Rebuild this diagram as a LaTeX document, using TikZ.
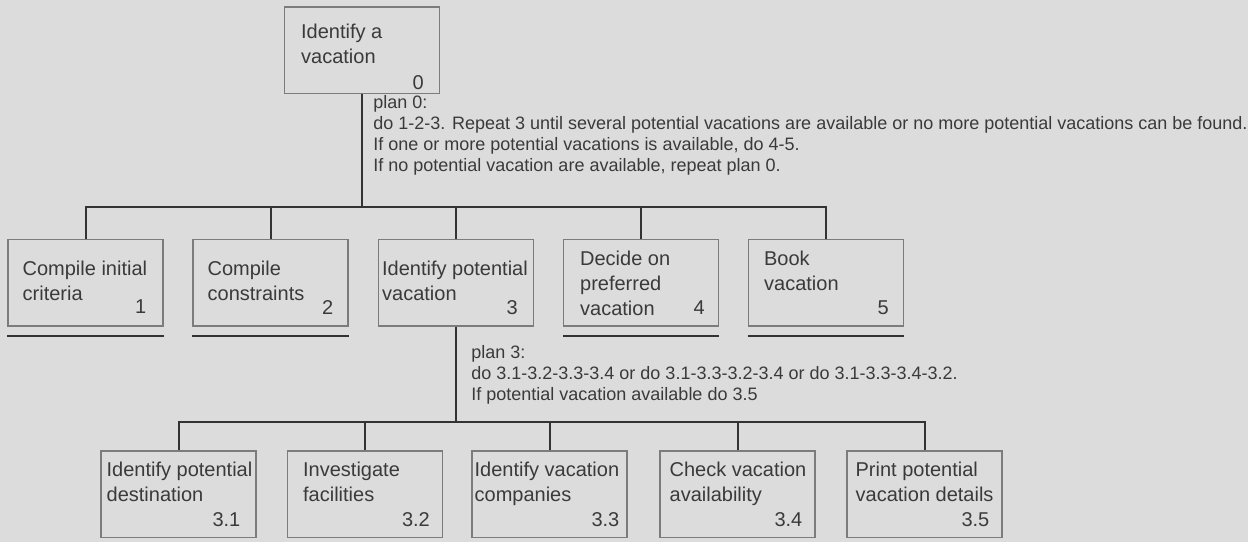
\documentclass[tikz,border=0pt]{standalone}
\usepackage{fontspec}
\setmainfont{Liberation Sans}
\usetikzlibrary{calc}
\definecolor{paper}{HTML}{DCDCDC}
\definecolor{ink}{HTML}{3A3A3A}
\definecolor{frame}{HTML}{7C7C7C}
\definecolor{wire}{HTML}{333333}
\tikzset{
	taskbox/.style={draw=frame, line width=0.75pt, minimum width=77.5pt, minimum height=43.25pt, inner sep=0pt},
	tasktext/.style={anchor=north west, inner sep=0pt, align=left, text=ink, font=\fontsize{10}{12.4}\selectfont},
	tasknum/.style={anchor=base east, inner sep=0pt, text=ink, font=\fontsize{10}{12.4}\selectfont},
	plantext/.style={anchor=north west, inner sep=0pt, align=left, text=ink, font=\fontsize{9}{10.5}\selectfont},
	link/.style={draw=wire, line width=1pt},
	underline/.style={draw=wire, line width=1pt}
}

\begin{document}
\begin{tikzpicture}[x=0.5pt, y=-0.5pt]
		%%%%% START %%%%%
		
		\fill[paper] (0, 0) rectangle (1248, 542);
		\useasboundingbox (0, 0) rectangle (1248, 542);
		
		% top task
		\node[taskbox] (t0) at (362, 50) {};
		\node[tasktext] (t0-txt) at ([shift={(8.5pt,-9pt)}]t0.north west) {Identify a\\vacation};
		\node[tasknum] (t0-num) at ([shift={(-8pt,2.5pt)}]t0.south east) {0};
		
		\node[plantext] (plan0) at (373, 95) {plan 0:\\do 1-2-3. Repeat 3 until several potential vacations are available or no more potential vacations can be found.\\If one or more potential vacations is available, do 4-5.\\If no potential vacation are available, repeat plan 0.};
		
		% first level
		\node[taskbox] (t1) at (85.5, 282.5) {};
		\node[tasktext] (t1-txt) at ([shift={(7.5pt,-11pt)}]t1.north west) {Compile initial\\criteria};
		\node[tasknum] (t1-num) at ([shift={(-8.5pt,6.5pt)}]t1.south east) {1};
		
		\node[taskbox] (t2) at (270.5, 282.5) {};
		\node[tasktext] (t2-txt) at ([shift={(7.5pt,-11pt)}]t2.north west) {Compile\\constraints};
		\node[tasknum] (t2-num) at ([shift={(-7.5pt,6pt)}]t2.south east) {2};
		
		\node[taskbox] (t3) at (456, 282.5) {};
		\node[tasktext] (t3-txt) at ([shift={(2pt,-11pt)}]t3.north west) {Identify potential\\vacation};
		\node[tasknum] (t3-num) at ([shift={(-8pt,6pt)}]t3.south east) {3};
		
		\node[taskbox] (t4) at (641, 282.5) {};
		\node[tasktext] (t4-txt) at ([shift={(8.5pt,-6pt)}]t4.north west) {Decide on\\preferred\\vacation};
		\node[tasknum] (t4-num) at ([shift={(-7pt,6pt)}]t4.south east) {4};
		
		\node[taskbox] (t5) at (826, 282.5) {};
		\node[tasktext] (t5-txt) at ([shift={(8pt,-6pt)}]t5.north west) {Book\\vacation};
		\node[tasknum] (t5-num) at ([shift={(-7.5pt,6pt)}]t5.south east) {5};
		
		\coordinate (j0) at (362, 207);
		\draw[link] (t0.south) -- (j0);
		\draw[link] (t1.north) |- (j0);
		\draw[link] (t2.north) |- (j0);
		\draw[link] (t3.north) |- (j0);
		\draw[link] (t4.north) |- (j0);
		\draw[link] (t5.north) |- (j0);
		
		\draw[underline] ([yshift=-4.5pt]t1.south west) -- ([yshift=-4.5pt]t1.south east);
		\draw[underline] ([yshift=-4.5pt]t2.south west) -- ([yshift=-4.5pt]t2.south east);
		\draw[underline] ([yshift=-4.5pt]t4.south west) -- ([yshift=-4.5pt]t4.south east);
		\draw[underline] ([yshift=-4.5pt]t5.south west) -- ([yshift=-4.5pt]t5.south east);
		
		\node[plantext] (plan3) at (471, 345) {plan 3:\\do 3.1-3.2-3.3-3.4 or do 3.1-3.3-3.2-3.4 or do 3.1-3.3-3.4-3.2.\\If potential vacation available do 3.5};
		
		% second level
		\node[taskbox] (s1) at (178.5, 494) {};
		\node[tasktext] (s1-txt) at ([shift={(3pt,-6pt)}]s1.north west) {Identify potential\\destination};
		\node[tasknum] (s1-num) at ([shift={(-8pt,6pt)}]s1.south east) {3.1};
		
		\node[taskbox] (s2) at (365, 494) {};
		\node[tasktext] (s2-txt) at ([shift={(8pt,-6pt)}]s2.north west) {Investigate\\facilities};
		\node[tasknum] (s2-num) at ([shift={(-6.5pt,6pt)}]s2.south east) {3.2};
		
		\node[taskbox] (s3) at (549.5, 494) {};
		\node[tasktext] (s3-txt) at ([shift={(1.5pt,-6pt)}]s3.north west) {Identify vacation\\companies};
		\node[tasknum] (s3-num) at ([shift={(-4pt,6pt)}]s3.south east) {3.3};
		
		\node[taskbox] (s4) at (737.5, 494) {};
		\node[tasktext] (s4-txt) at ([shift={(5pt,-6pt)}]s4.north west) {Check vacation\\availability};
		\node[tasknum] (s4-num) at ([shift={(-6.5pt,6pt)}]s4.south east) {3.4};
		
		\node[taskbox] (s5) at (924.5, 494) {};
		\node[tasktext] (s5-txt) at ([shift={(4.5pt,-6pt)}]s5.north west) {Print potential\\vacation details};
		\node[tasknum] (s5-num) at ([shift={(-6.5pt,6pt)}]s5.south east) {3.5};
		
		\coordinate (j3) at (456, 422);
		\draw[link] (t3.south) -- (j3);
		\draw[link] (s1.north) |- (j3);
		\draw[link] (s2.north) |- (j3);
		\draw[link] (s3.north) |- (j3);
		\draw[link] (s4.north) |- (j3);
		\draw[link] (s5.north) |- (j3);
		
		%%%%% END %%%%%
\end{tikzpicture}
\end{document}
